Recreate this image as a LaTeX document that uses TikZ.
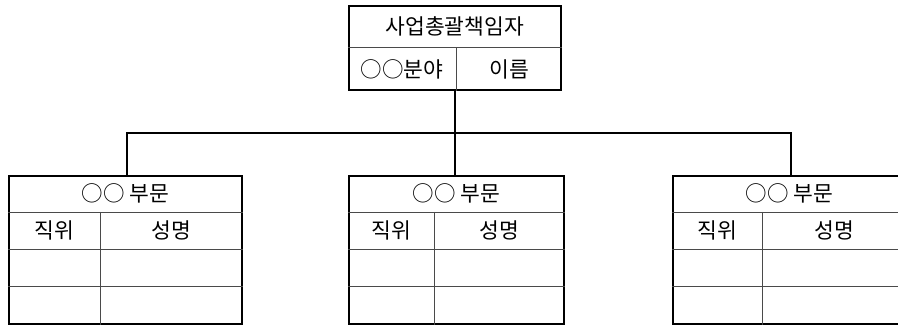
\documentclass[tikz,border=0pt]{standalone}
\usepackage{fontspec}
\usepackage{tikz}
\usetikzlibrary{calc}
\setmainfont{Noto Sans CJK KR}
\definecolor{lineGray}{HTML}{4A4A4A}

\begin{document}
\begin{tikzpicture}[x=1pt,y=-1pt]

            \tikzset{
                frame/.style={
                    draw=black,
                    line width=1.6pt,
                    inner sep=0pt,
                    anchor=north west
                },
                gridline/.style={
                    draw=lineGray,
                    line width=0.8pt
                },
                conn/.style={
                    draw=black,
                    line width=1.6pt
                },
                celltext/.style={
                    font=\fontsize{21.5}{24}\selectfont,
                    inner sep=0pt
                }
            }

            % name, left x, width, column split
            \newcommand{\DeptBox}[4]{%
                \node[frame, minimum width=#3pt, minimum height=148pt] (#1) at (#2,175) {};
                \foreach \k in {37,74,111}
                    \draw[gridline] ([yshift=-\k pt]#1.north west) -- ([yshift=-\k pt]#1.north east);
                \draw[gridline] ([xshift=#4pt,yshift=-37pt]#1.north west) -- ([xshift=#4pt]#1.south west);
                \node[celltext] (#1-title) at ([yshift=-18.5pt]#1.north) {○○ 부문};
                \node[celltext] (#1-pos) at ([xshift=#4pt/2,yshift=-55.5pt]#1.north west) {직위};
                \node[celltext] (#1-name) at ($([yshift=-55.5pt]#1.north east)!0.5!([xshift=#4pt,yshift=-55.5pt]#1.north west)$) {성명};
            }

            \clip (0,0) rectangle (898,326);

            % head
            \node[frame, minimum width=212pt, minimum height=84pt] (chief) at (348,5) {};
            \draw[gridline] (chief.west) -- (chief.east);
            \draw[gridline] ([xshift=108pt]chief.west) -- ([xshift=108pt]chief.south west);
            \node[celltext] (chief-title) at ([yshift=-21pt]chief.north) {사업총괄책임자};
            \node[celltext] (chief-field) at ([xshift=54pt,yshift=21pt]chief.south west) {○○분야};
            \node[celltext] (chief-name) at ([xshift=-52pt,yshift=21pt]chief.south east) {이름};

            % departments
            \DeptBox{deptL}{8}{233}{92}
            \DeptBox{deptM}{348}{215}{86}
            \DeptBox{deptR}{672}{233}{90}

            % connectors
            \coordinate (busL) at (127,133);
            \coordinate (busR) at (791,133);
            \draw[conn] (chief.south) -- (chief.south |- deptM.north);
            \draw[conn] (busL |- deptL.north) -- (busL) -- (busR) -- (busR |- deptR.north);

        \end{tikzpicture}
\end{document}
